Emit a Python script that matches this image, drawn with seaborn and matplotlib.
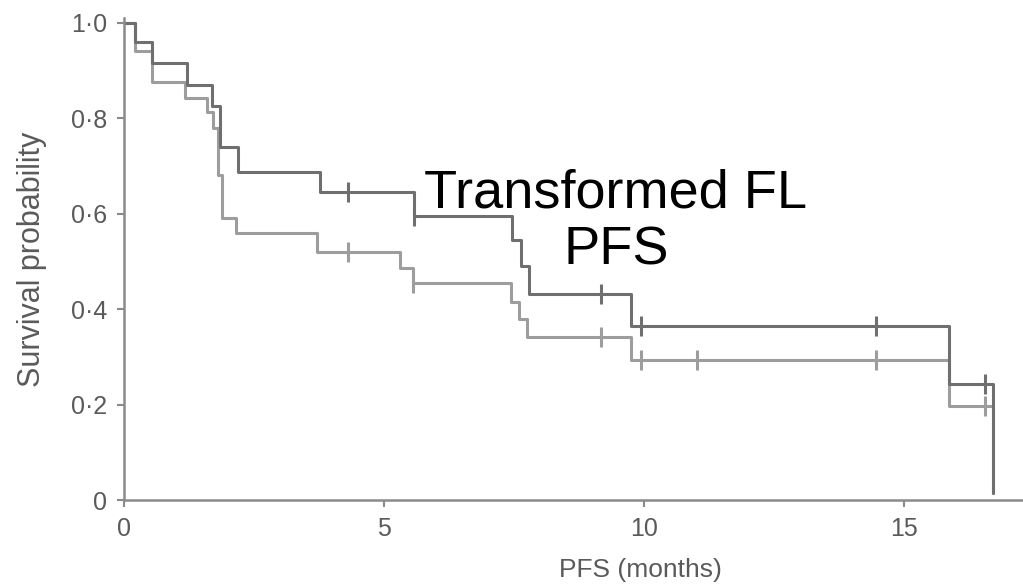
import numpy as np
import pandas as pd
import matplotlib
matplotlib.use("Agg")
import matplotlib.pyplot as plt
import seaborn as sns

# Kaplan-Meier step points (months, survival)
upper_time = [0, 0.21, 0.54, 1.21, 1.70, 1.84, 2.19, 3.76, 5.58, 7.47, 7.64, 7.79, 9.75, 15.87, 16.72]
upper_surv = [1.0, 0.96, 0.916, 0.87, 0.825, 0.74, 0.688, 0.645, 0.595, 0.545, 0.49, 0.432, 0.365, 0.243, 0.015]
upper_censor = [4.3, 5.58, 9.17, 9.94, 14.47, 16.55]

lower_time = [0, 0.21, 0.54, 1.17, 1.60, 1.72, 1.80, 1.88, 2.16, 3.72, 5.30, 5.56, 7.45, 7.60, 7.75, 9.75, 15.87, 16.72]
lower_surv = [1.0, 0.94, 0.876, 0.843, 0.813, 0.78, 0.68, 0.59, 0.56, 0.52, 0.486, 0.455, 0.415, 0.38, 0.342, 0.293, 0.197, 0.015]
lower_censor = [4.3, 5.56, 9.17, 9.94, 11.02, 14.47, 16.55]

y_ticks = [0, 0.2, 0.4, 0.6, 0.8, 1.0]
y_ticklabels = ["0", "0·2", "0·4", "0·6", "0·8", "1·0"]
x_ticks = [0, 5, 10, 15]


def surv_at(times, surv, t):
    i = np.searchsorted(times, t, side="right") - 1
    return surv[i]


sns.set_style("white")
plt.rcParams["font.family"] = ["Liberation Sans", "DejaVu Sans"]

fig = plt.figure(figsize=(10.23, 5.87), dpi=100)
ax = fig.add_axes([124 / 1023, 87 / 587, 899 / 1023, 482 / 587])

# lower curve first so the darker one sits on top where they share the last drop
curves = [
    (lower_time, lower_surv, lower_censor, "#9d9d9d"),
    (upper_time, upper_surv, upper_censor, "#6f6f6f"),
]
for times, surv, censor, col in curves:
    df = pd.DataFrame({"t": times, "s": surv})
    sns.lineplot(data=df, x="t", y="s", ax=ax, drawstyle="steps-post",
                 estimator=None, color=col, linewidth=2.2)
    cdf = pd.DataFrame({"t": censor, "s": [surv_at(times, surv, c) for c in censor]})
    sns.scatterplot(data=cdf, x="t", y="s", ax=ax, marker="|", s=220,
                    color=col, linewidth=2.2, zorder=3)

ax.set_xlim(0, 899 / 52)
ax.set_ylim(0, 1.01)
ax.set_yticks(y_ticks)
ax.set_yticklabels(y_ticklabels)
ax.set_xticks(x_ticks)

for side in ["top", "right"]:
    ax.spines[side].set_visible(False)
for side in ["left", "bottom"]:
    ax.spines[side].set_color("#8a8a8a")
    ax.spines[side].set_linewidth(1.8)

ax.tick_params(axis="both", direction="out", length=5, width=1.5, color="#8a8a8a",
               labelsize=18, labelcolor="#5a5a5a", pad=7,
               left=True, bottom=True)

ax.set_xlabel("PFS (months)", fontsize=19, color="#5a5a5a")
ax.set_ylabel("Survival probability", fontsize=22, color="#5a5a5a")
ax.xaxis.set_label_coords(0.574, -0.12)
ax.yaxis.set_label_coords(-0.086, 0.5)

fig.text(616 / 1023, 1 - 222 / 587, "Transformed FL\nPFS", fontsize=39,
         color="black", ha="center", va="center", linespacing=1.2)

fig.savefig("out.png", dpi=100)
